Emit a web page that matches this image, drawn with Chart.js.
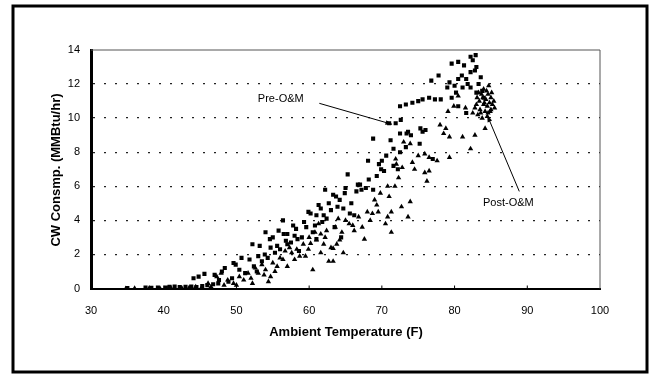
<!DOCTYPE html>
<html>
<head>
<meta charset="utf-8">
<script src="https://cdn.jsdelivr.net/npm/chart.js@4"></script>
<style>
    body { margin: 0; background: #fff; }
</style>
</head>
<body>
<canvas id="cw_chart" width="654" height="376"></canvas>
<script>
// Pre-O&M (squares)
const preTemp = [35.0, 37.5, 38.3, 39.2, 40.3, 40.8, 41.5, 42.2, 43.0, 43.8, 44.5, 45.3, 46.0, 46.8, 47.5,
    44.1, 44.8, 45.6, 47.0, 47.6, 48.0, 48.4, 48.9, 49.4, 49.6, 49.9, 50.4, 50.7, 51.2, 51.8, 52.2, 52.4, 52.8,
    53.2, 53.5, 53.9, 54.0, 54.3, 54.7, 55.0, 55.3, 55.6, 56.0, 56.4, 56.5, 56.8, 57.0, 57.0, 57.5, 58.0, 58.2,
    58.6, 59.0, 59.6, 59.9, 60.2, 60.5, 61.0, 61.0, 61.6, 61.8, 62.2, 62.4, 62.7, 63.0, 63.3, 63.5, 63.9, 64.2,
    64.4, 64.7, 65.0, 65.3, 65.6, 66.2, 66.5, 66.7, 67.2, 67.8, 68.1, 68.2, 68.8, 68.8, 69.3, 69.6, 69.9, 70.3,
    71.0, 71.2, 71.6, 71.6, 71.9, 72.2, 72.5, 72.5, 72.6, 72.5, 73.3, 73.3, 73.4, 73.6, 74.2, 75.0, 75.2, 75.3,
    75.6, 75.6, 76.5, 76.8, 77.0, 77.3, 77.8, 78.1, 79.0, 79.6, 79.6, 80.0, 80.5, 80.5, 80.5, 81.1, 81.3, 81.6,
    81.6, 82.2, 82.2, 82.2, 82.8, 82.9, 83.0, 83.3, 83.6, 83.8, 84.0,
    53.0, 54.6, 55.8, 57.8, 58.4, 59.3, 60.8, 61.3, 62.0, 63.7, 64.9, 65.8, 67.0, 70.0, 70.6, 74.0, 76.0,
    79.3, 81.0, 82.5, 83.0, 81.8, 80.2];
const preLoad = [0.02, 0.05, 0.04, 0.06, 0.05, 0.1, 0.12, 0.08, 0.1, 0.12, 0.08, 0.15, 0.2, 0.25, 0.3,
    0.6, 0.7, 0.86, 0.8, 0.5, 1.0, 1.2, 0.4, 0.6, 1.5, 1.4, 1.1, 1.8, 0.9, 1.7, 2.6, 1.3, 1.0,
    2.5, 1.6, 2.0, 3.3, 1.8, 2.4, 3.0, 2.1, 2.5, 2.3, 4.0, 3.2, 2.8, 3.2, 2.6, 2.7, 3.1, 3.5,
    2.2, 3.0, 3.6, 4.5, 4.4, 3.3, 4.3, 2.9, 4.7, 3.9, 5.8, 4.1, 5.0, 4.6, 5.5, 3.6, 4.8, 5.2,
    3.0, 4.7, 5.9, 6.7, 4.4, 4.3, 5.7, 6.1, 5.8, 5.9, 7.5, 6.4, 5.8, 8.8, 6.6, 7.3, 7.0, 6.9,
    9.7, 8.7, 7.2, 8.2, 9.7, 7.0, 8.0, 9.1, 9.9, 10.7, 8.3, 10.8, 9.1, 9.2, 10.9, 11.0, 8.5, 9.4,
    9.2, 11.1, 11.2, 12.2, 7.6, 11.1, 12.5, 11.1, 11.8, 11.2, 13.2, 11.9, 13.3, 12.3, 10.7, 11.8, 13.1, 12.3,
    10.3, 13.6, 12.7, 11.8, 12.8, 13.7, 11.5, 12.0, 12.4, 11.6, 11.2,
    1.9, 2.9, 3.4, 3.7, 2.9, 3.9, 3.7, 4.9, 4.3, 5.4, 5.6, 5.0, 6.1, 7.5, 7.8, 9.0, 9.3,
    12.1, 12.5, 13.4, 13.0, 12.0, 11.5];

// Post-O&M (triangles)
const postTemp = [34.8, 36.0, 38.0, 39.5, 41.0, 42.5, 43.5, 44.4, 45.2, 46.1, 46.5, 47.3, 47.9, 48.3, 48.8,
    49.6, 50.0, 50.4, 51.0, 51.6, 52.2, 52.6, 53.0, 53.5, 54.0, 54.4, 54.7, 55.0, 55.6, 56.0, 56.4, 57.0,
    57.3, 57.6, 58.0, 58.7, 59.2, 59.9, 60.2, 60.5, 60.8, 61.0, 61.3, 61.6, 61.6, 62.0, 62.4, 62.7, 63.0,
    63.3, 63.3, 63.6, 64.0, 64.2, 64.7, 65.0, 65.5, 66.2, 66.8, 67.3, 67.6, 68.0, 68.4, 68.7, 69.0, 69.3,
    69.8, 70.5, 70.8, 70.8, 71.3, 71.3, 71.8, 71.9, 72.3, 72.7, 72.8, 73.0, 73.6, 73.9, 73.9, 74.5, 75.0,
    75.9, 75.9, 76.2, 76.5, 76.5, 77.6, 78.0, 78.5, 78.8, 79.1, 79.3, 79.3, 79.9, 80.5, 81.1, 81.5, 82.2,
    82.5, 82.8, 83.0, 83.2, 83.4, 83.5, 83.7, 83.8, 84.0, 84.0, 84.2, 84.2, 84.3, 84.5, 84.5, 84.6, 84.7,
    84.8, 85.0, 85.0, 85.2, 85.4, 85.5,
    52.0, 53.8, 55.3, 56.7, 58.3, 59.5, 60.0, 62.2, 63.8, 64.5, 66.0, 69.5, 71.0, 72.0, 74.2,
    83.3, 83.6, 83.9, 84.4, 84.9, 84.1, 84.6, 85.1, 83.1, 82.8];
const postLoad = [0.0, 0.01, 0.02, 0.0, 0.03, 0.02, 0.05, 0.1, 0.05, 0.3, 0.1, 0.7, 0.9, 0.2, 0.5,
    0.3, 0.2, 0.7, 0.5, 0.9, 0.3, 1.2, 0.9, 1.4, 1.1, 0.4, 0.7, 1.5, 1.3, 1.8, 1.7, 1.3,
    2.4, 2.1, 1.7, 1.9, 2.6, 2.3, 2.65, 1.1, 3.3, 2.85, 3.8, 2.1, 3.2, 2.6, 3.4, 1.6, 2.4,
    1.6, 2.35, 3.6, 4.1, 2.85, 2.1, 4.0, 3.8, 3.4, 4.2, 3.6, 2.9, 4.5, 4.0, 4.4, 5.2, 4.9,
    5.6, 3.8, 4.2, 6.0, 3.3, 4.5, 6.0, 7.6, 6.5, 4.8, 7.1, 8.6, 4.2, 5.1, 8.5, 7.0, 7.8,
    7.9, 6.8, 6.3, 6.9, 7.7, 7.5, 9.6, 9.1, 9.4, 10.4, 7.7, 8.9, 10.7, 11.3, 8.9, 10.6, 8.2,
    10.3, 9.0, 10.8, 10.2, 11.0, 10.5, 11.4, 10.0, 10.8, 11.7, 9.4, 10.4, 11.1, 10.1, 10.7, 11.4, 11.9,
    10.9, 10.5, 11.2, 10.8, 11.0, 10.6,
    0.6, 0.8, 1.0, 2.2, 2.3, 1.9, 3.0, 3.0, 2.6, 3.3, 3.7, 4.5, 5.4, 7.3, 7.4,
    11.5, 10.3, 11.2, 11.6, 10.4, 10.9, 10.3, 11.5, 11.2, 10.6];

const xTicks = [30, 40, 50, 60, 70, 80, 90, 100];
const yTicks = [0, 2, 4, 6, 8, 10, 12, 14];

function toPoints(xs, ys) {
    return xs.map((x, i) => ({x: x, y: ys[i]}));
}

// frame, axis titles, arrows
const decorPlugin = {
    id: 'decor',
    afterDraw(chart) {
        const ctx = chart.ctx;
        const area = chart.chartArea;
        const xs = chart.scales.x;
        const ys = chart.scales.y;
        ctx.save();

        // outer frame
        ctx.strokeStyle = '#000';
        ctx.lineWidth = 3;
        ctx.strokeRect(13, 6, 634, 366);

        // top and right border of plot
        ctx.lineWidth = 1;
        ctx.strokeStyle = '#555';
        ctx.beginPath();
        ctx.moveTo(area.left, area.top);
        ctx.lineTo(area.right, area.top);
        ctx.lineTo(area.right, area.bottom);
        ctx.stroke();

        // small x ticks pointing up
        ctx.strokeStyle = '#000';
        xTicks.slice(1, -1).forEach(v => {
            const px = xs.getPixelForValue(v);
            ctx.beginPath();
            ctx.moveTo(px, area.bottom);
            ctx.lineTo(px, area.bottom - 3);
            ctx.stroke();
        });

        // axis titles
        ctx.fillStyle = '#000';
        ctx.font = 'bold 13px "Liberation Sans", Arial, sans-serif';
        ctx.textAlign = 'center';
        ctx.textBaseline = 'middle';
        ctx.fillText('Ambient Temperature (F)', 346, 332);
        ctx.save();
        ctx.translate(56, 170);
        ctx.rotate(-Math.PI / 2);
        ctx.fillText('CW Consmp. (MMBtu/hr)', 0, 0);
        ctx.restore();

        // annotations
        ctx.font = '11px "Liberation Sans", Arial, sans-serif';
        ctx.fillText('Pre-O&M', xs.getPixelForValue(56.1), ys.getPixelForValue(11.1));
        ctx.fillText('Post-O&M', xs.getPixelForValue(87.4), ys.getPixelForValue(5.0));
        drawArrow(ctx, xs.getPixelForValue(61.4), ys.getPixelForValue(10.87),
            xs.getPixelForValue(71.4), ys.getPixelForValue(9.64));
        drawArrow(ctx, xs.getPixelForValue(88.9), ys.getPixelForValue(5.7),
            xs.getPixelForValue(84.5), ys.getPixelForValue(10.16));
        ctx.restore();
    }
};

function drawArrow(ctx, x1, y1, x2, y2) {
    const ang = Math.atan2(y2 - y1, x2 - x1);
    ctx.strokeStyle = '#000';
    ctx.lineWidth = 1;
    ctx.beginPath();
    ctx.moveTo(x1, y1);
    ctx.lineTo(x2, y2);
    ctx.stroke();
    ctx.beginPath();
    ctx.moveTo(x2, y2);
    ctx.lineTo(x2 - 7 * Math.cos(ang - 0.35), y2 - 7 * Math.sin(ang - 0.35));
    ctx.lineTo(x2 - 7 * Math.cos(ang + 0.35), y2 - 7 * Math.sin(ang + 0.35));
    ctx.closePath();
    ctx.fill();
}

const tickFont = {family: '"Liberation Sans", Arial, sans-serif', size: 11};

new Chart(document.getElementById('cw_chart'), {
    type: 'scatter',
    data: {
        datasets: [
            {
                label: 'Pre-O&M',
                data: toPoints(preTemp, preLoad),
                pointStyle: 'rect',
                pointRadius: 2.9,
                backgroundColor: '#000',
                borderColor: '#000',
                borderWidth: 0,
            },
            {
                label: 'Post-O&M',
                data: toPoints(postTemp, postLoad),
                pointStyle: 'triangle',
                pointRadius: 3.1,
                backgroundColor: '#000',
                borderColor: '#000',
                borderWidth: 0,
            }],
    },
    options: {
        responsive: false,
        animation: false,
        layout: {
            padding: {left: 0, right: 54, top: 50, bottom: 0},
        },
        plugins: {
            legend: {display: false},
            tooltip: {enabled: false},
        },
        scales: {
            x: {
                type: 'linear',
                min: xTicks[0],
                max: xTicks[xTicks.length - 1],
                afterFit: function (scale) { scale.height = 87.5; },
                afterBuildTicks: function (scale) { scale.ticks = xTicks.map(v => ({value: v})); },
                border: {color: '#000', width: 2},
                grid: {display: false},
                ticks: {color: '#000', font: tickFont, padding: 8},
            },
            y: {
                min: yTicks[0],
                max: yTicks[yTicks.length - 1],
                afterFit: function (scale) { scale.width = 91; },
                afterBuildTicks: function (scale) { scale.ticks = yTicks.map(v => ({value: v})); },
                border: {color: '#000', width: 3, dash: [2, 9]},
                grid: {
                    drawTicks: false,
                    color: function (c) {
                        return (c.tick.value === 0 || c.tick.value === 14) ? 'rgba(0,0,0,0)' : '#222';
                    },
                    lineWidth: 1.3,
                },
                ticks: {color: '#000', font: tickFont, padding: 11},
            },
        },
    },
    plugins: [decorPlugin],
});
</script>
</body>
</html>
